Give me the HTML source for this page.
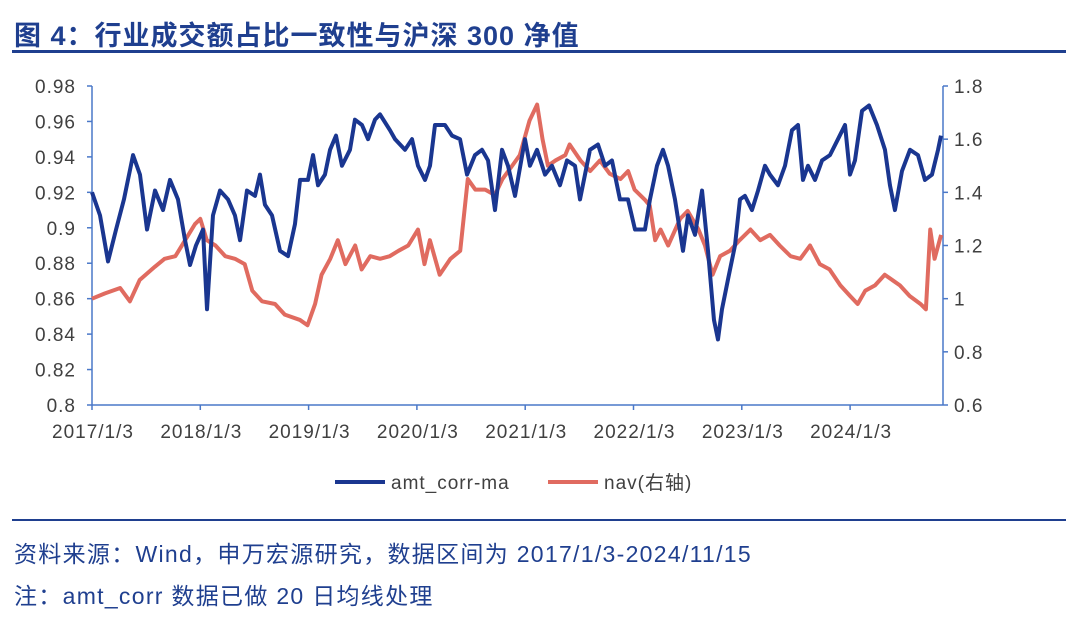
<!DOCTYPE html>
<html><head><meta charset="utf-8"><style>
body{margin:0;width:1080px;height:619px;background:#fff;overflow:hidden;font-family:"Liberation Sans","Noto Sans CJK SC",sans-serif}
.title{position:absolute;left:14px;top:14px;font-size:27px;font-weight:bold;color:#1f3f8f;letter-spacing:1px}
.rule{position:absolute;left:12px;width:1054px;background:#1f3f8f}
.note{position:absolute;left:14px;font-size:23px;color:#1f3f8f;letter-spacing:1.3px}
svg{position:absolute;left:0;top:0}
svg text{letter-spacing:1px}
</style></head><body>
<div class="title">图 4：行业成交额占比一致性与沪深 300 净值</div>
<div class="rule" style="top:50px;height:3px"></div>
<svg id="c" width="1080" height="619"></svg>
<div class="rule" style="top:519px;height:2px"></div>
<div class="note" style="top:535px">资料来源：Wind，申万宏源研究，数据区间为 2017/1/3-2024/11/15</div>
<div class="note" style="top:577px">注：amt_corr 数据已做 20 日均线处理</div>
<script>
const xTickLabels=["2017/1/3","2018/1/3","2019/1/3","2020/1/3","2021/1/3","2022/1/3","2023/1/3","2024/1/3"];
const leftTicks=[0.8,0.82,0.84,0.86,0.88,0.9,0.92,0.94,0.96,0.98];
const rightTicks=[0.6,0.8,1,1.2,1.4,1.6,1.8];
const amtT=[0,.074,.148,.222,.295,.379,.443,.508,.582,.656,.720,.794,.859,.905,.960,1.025,1.062,1.117,1.182,1.256,1.320,1.367,1.431,1.505,1.551,1.597,1.662,1.736,1.810,1.874,1.921,1.994,2.041,2.087,2.151,2.198,2.253,2.308,2.382,2.428,2.493,2.549,2.613,2.659,2.752,2.798,2.890,2.955,3.010,3.075,3.121,3.167,3.259,3.324,3.398,3.463,3.536,3.601,3.657,3.721,3.786,3.841,3.906,3.998,4.044,4.109,4.183,4.247,4.321,4.386,4.460,4.506,4.598,4.672,4.737,4.801,4.875,4.949,5.014,5.106,5.152,5.217,5.272,5.319,5.383,5.457,5.503,5.568,5.633,5.688,5.743,5.780,5.817,5.873,5.937,5.983,6.029,6.094,6.150,6.214,6.260,6.334,6.399,6.463,6.519,6.565,6.611,6.676,6.741,6.814,6.888,6.953,6.999,7.045,7.110,7.175,7.248,7.322,7.368,7.414,7.479,7.553,7.627,7.691,7.756,7.812,7.839];
const amtV=[.920,.907,.881,.899,.916,.941,.930,.899,.921,.910,.927,.916,.893,.879,.890,.899,.854,.907,.921,.916,.907,.893,.921,.918,.930,.913,.907,.887,.884,.902,.927,.927,.941,.924,.930,.944,.952,.935,.944,.961,.958,.950,.961,.964,.955,.950,.944,.950,.935,.927,.935,.958,.958,.952,.950,.930,.941,.944,.938,.910,.944,.935,.918,.950,.935,.944,.930,.935,.924,.938,.935,.916,.944,.947,.935,.938,.916,.916,.899,.899,.916,.935,.944,.935,.916,.887,.907,.896,.921,.887,.848,.837,.854,.871,.890,.916,.918,.910,.921,.935,.930,.924,.935,.955,.958,.927,.935,.927,.938,.941,.950,.958,.930,.938,.966,.969,.958,.944,.924,.910,.932,.944,.941,.927,.930,.944,.952];
const navT=[0,.12,.26,.35,.44,.58,.67,.77,.86,.95,1.00,1.06,1.14,1.23,1.32,1.41,1.48,1.57,1.69,1.78,1.92,1.99,2.06,2.12,2.20,2.27,2.34,2.43,2.49,2.57,2.66,2.75,2.83,2.92,3.01,3.07,3.12,3.21,3.31,3.40,3.47,3.54,3.63,3.72,3.79,3.88,3.95,4.04,4.11,4.16,4.21,4.28,4.37,4.41,4.51,4.60,4.69,4.78,4.88,4.95,5.01,5.11,5.15,5.20,5.25,5.32,5.43,5.50,5.60,5.66,5.73,5.80,5.89,5.98,6.08,6.17,6.26,6.35,6.45,6.54,6.63,6.72,6.81,6.91,7.00,7.07,7.14,7.23,7.32,7.39,7.46,7.55,7.65,7.70,7.74,7.78,7.84];
const navV=[1.00,1.02,1.04,0.99,1.07,1.12,1.15,1.16,1.22,1.28,1.30,1.22,1.20,1.16,1.15,1.13,1.03,0.99,0.98,0.94,0.92,0.90,0.98,1.09,1.15,1.22,1.13,1.20,1.11,1.16,1.15,1.16,1.18,1.20,1.26,1.13,1.22,1.09,1.15,1.18,1.45,1.41,1.41,1.39,1.45,1.50,1.54,1.67,1.73,1.60,1.50,1.52,1.54,1.58,1.52,1.48,1.52,1.47,1.45,1.48,1.41,1.37,1.35,1.22,1.26,1.20,1.30,1.33,1.26,1.20,1.09,1.16,1.18,1.22,1.26,1.22,1.24,1.20,1.16,1.15,1.20,1.13,1.11,1.05,1.01,0.98,1.03,1.05,1.09,1.07,1.05,1.01,0.98,0.96,1.26,1.15,1.24];
const NS="http://www.w3.org/2000/svg",svg=document.getElementById('c');
const X0=92,XS=108.3,YT=86,YB=405;
const xs=t=>X0+t*XS;
const yl=v=>YB-(v-0.8)/0.18*(YB-YT);
const yr=v=>YB-(v-0.6)/1.2*(YB-YT);
function el(tag,a){const e=document.createElementNS(NS,tag);for(const k in a)e.setAttribute(k,a[k]);svg.appendChild(e);return e;}
const ax='#4a78c8',tc='#404040',fs=19;
let e=el('line',{x1:X0,y1:YT,x2:X0,y2:YB,stroke:ax,'stroke-width':1.5});

e=el('line',{x1:943,y1:YT,x2:943,y2:YB,stroke:ax,'stroke-width':1.5});

e=el('line',{x1:X0,y1:YB,x2:943,y2:YB,stroke:ax,'stroke-width':1.5});

leftTicks.forEach(v=>{const y=yl(v);el('line',{x1:X0-5,y1:y,x2:X0,y2:y,stroke:ax,'stroke-width':1.5});
 const t=el('text',{x:X0-16,y:y+7,'text-anchor':'end','font-size':fs,fill:tc});t.textContent=String(v);
 });
rightTicks.forEach(v=>{const y=yr(v);el('line',{x1:943,y1:y,x2:948,y2:y,stroke:ax,'stroke-width':1.5});
 const t=el('text',{x:954,y:y+7,'font-size':fs,fill:tc});t.textContent=String(v);
 });
xTickLabels.forEach((s,i)=>{const x=xs(i);el('line',{x1:x,y1:YB,x2:x,y2:YB+5,stroke:ax,'stroke-width':1.5});
 const t=el('text',{x:x+1,y:438,'text-anchor':'middle','font-size':fs,fill:tc});t.textContent=s;
 });
function line(T,V,yf,col,name){const p=el('polyline',{points:T.map((t,i)=>xs(t)+','+yf(V[i])).join(' '),fill:'none',stroke:col,'stroke-width':4,'stroke-linejoin':'round'});
 }
line(navT,navV,yr,'#e06b60','nav-line');
line(amtT,amtV,yl,'#1a3690','amt-corr-line');
e=el('line',{x1:335,y1:482,x2:385,y2:482,stroke:'#1a3690','stroke-width':4});

e=el('text',{x:391,y:489,'font-size':fs,fill:tc});e.textContent='amt_corr-ma';

e=el('line',{x1:548,y1:482,x2:598,y2:482,stroke:'#e06b60','stroke-width':4});

e=el('text',{x:604,y:489,'font-size':fs,fill:tc});e.textContent='nav(右轴)';

</script>
</body></html>
